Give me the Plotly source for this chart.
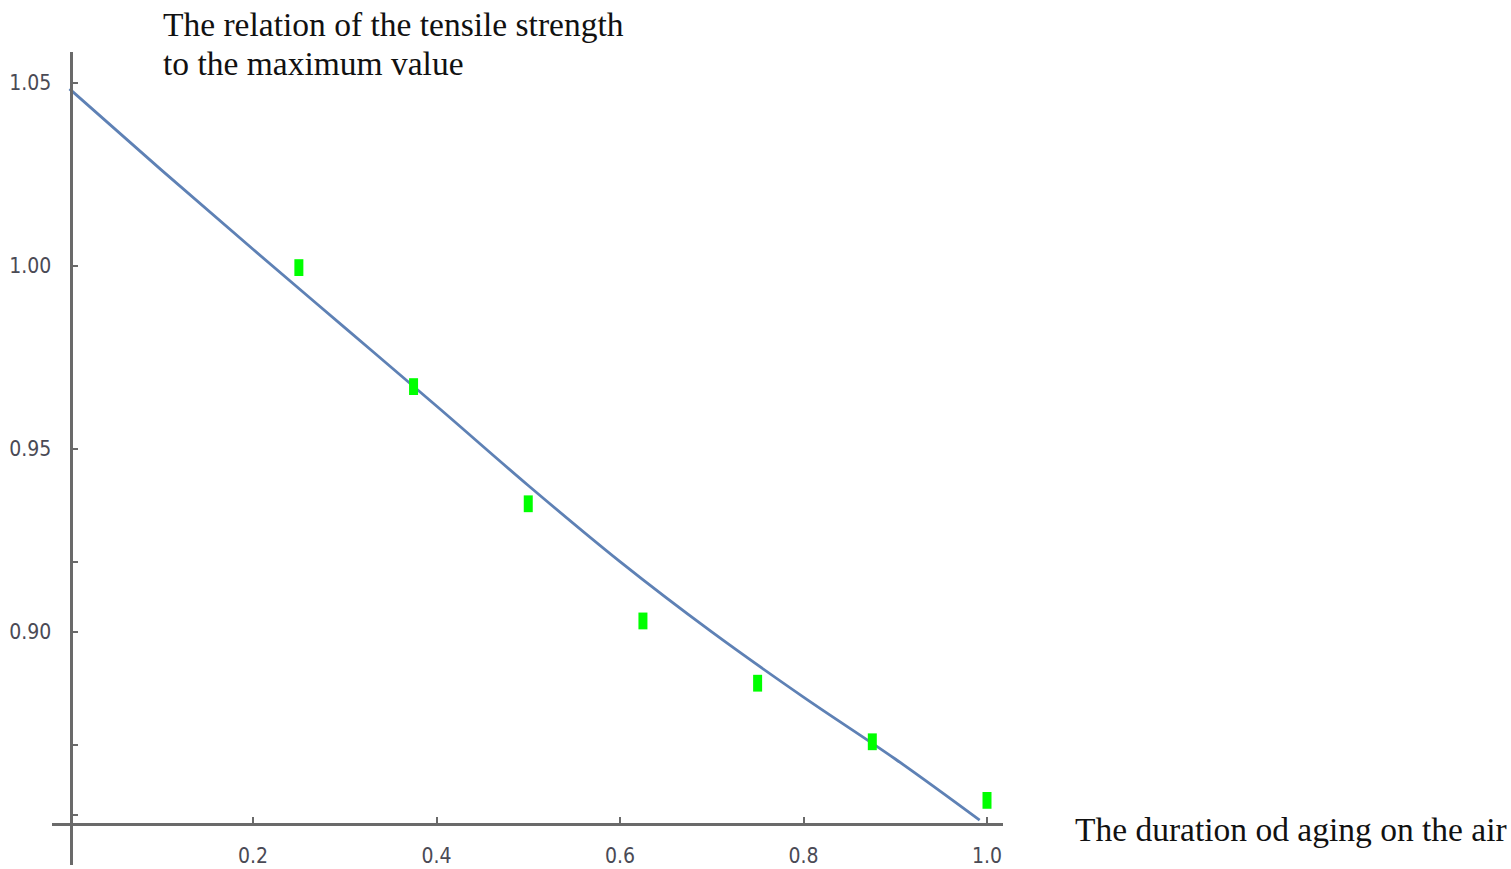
import plotly.graph_objects as go

# ---- data ----
aging_x = [0.25, 0.375, 0.5, 0.625, 0.75, 0.875, 1.0]
strength_y = [0.9995, 0.967, 0.935, 0.903, 0.886, 0.870, 0.854]

fit_x = [0.0, 0.1, 0.2, 0.3, 0.4, 0.5, 0.6, 0.7, 0.8, 0.9, 0.992]
fit_y = [1.0483, 1.0262, 1.0045, 0.9831, 0.9617, 0.9400, 0.9192, 0.9000, 0.8822, 0.8653, 0.8486]

x_tickvals = [0.2, 0.4, 0.6, 0.8, 1.0]
x_ticktext = ["0.2", "0.4", "0.6", "0.8", "1.0"]
y_tickvals = [0.85, 0.869, 0.90, 0.919, 0.95, 1.00, 1.05]
y_ticktext = ["", "", "0.90", "", "0.95", "1.00", "1.05"]

y_title_lines = ["The relation of the tensile strength", "to the maximum value"]
x_title = "The duration od aging on the air"

# ---- layout constants ----
W, H = 1511, 869
AXIS_COLOR = "#6a6a6a"
TICK_FONT = dict(family="Liberation Sans Narrow, DejaVu Sans Condensed, Arial Narrow, sans-serif",
                 size=21, color="#4a4a55")
TITLE_FONT = dict(family="Liberation Serif, Times New Roman, serif", size=33.5, color="#111111")

fig = go.Figure()

fig.add_trace(go.Scatter(
    x=fit_x, y=fit_y, mode="lines",
    line=dict(color="rgb(94,129,181)", width=2.8, shape="spline", smoothing=1.0),
    hoverinfo="skip",
))

fig.add_trace(go.Scatter(
    x=aging_x, y=strength_y, mode="markers",
    marker=dict(symbol="line-ns", size=12, color="#00ff00",
                line=dict(width=9, color="#00ff00")),
    cliponaxis=False,
))

annotations = [
    dict(text=y_title_lines[0], x=161 / W, y=1 - 24 / H, xref="paper", yref="paper",
         xanchor="left", yanchor="middle", showarrow=False, font=TITLE_FONT),
    dict(text=y_title_lines[1], x=161 / W, y=1 - 63 / H, xref="paper", yref="paper",
         xanchor="left", yanchor="middle", showarrow=False, font=TITLE_FONT),
    dict(text=x_title, x=1073 / W, y=1 - 829 / H, xref="paper", yref="paper",
         xanchor="left", yanchor="middle", showarrow=False, font=TITLE_FONT),
]

fig.update_layout(
    width=W, height=H,
    margin=dict(l=0, r=0, t=0, b=0),
    paper_bgcolor="white", plot_bgcolor="white",
    showlegend=False,
    annotations=annotations,
    xaxis=dict(
        domain=[52 / W, 1003 / W],
        range=[-0.01907, 1.01744],
        anchor="free", position=(H - 824.2) / H,
        showline=True, linecolor=AXIS_COLOR, linewidth=3,
        ticks="inside", ticklen=6, tickwidth=2, tickcolor=AXIS_COLOR,
        tickvals=x_tickvals, ticktext=x_ticktext,
        showgrid=False, zeroline=False,
        tickfont=TICK_FONT, ticklabelstandoff=12,
    ),
    yaxis=dict(
        domain=[(H - 865) / H, (H - 52) / H],
        range=[0.83635, 1.05838],
        anchor="free", position=70.5 / W,
        showline=True, linecolor=AXIS_COLOR, linewidth=3,
        ticks="inside", ticklen=5, tickwidth=2, tickcolor=AXIS_COLOR,
        tickvals=y_tickvals, ticktext=y_ticktext,
        showgrid=False, zeroline=False,
        tickfont=TICK_FONT, ticklabelstandoff=14,
    ),
)

fig.write_html("out.html", config={"displayModeBar": False},
               post_script="document.body.style.margin='0';document.body.style.overflow='hidden';")
